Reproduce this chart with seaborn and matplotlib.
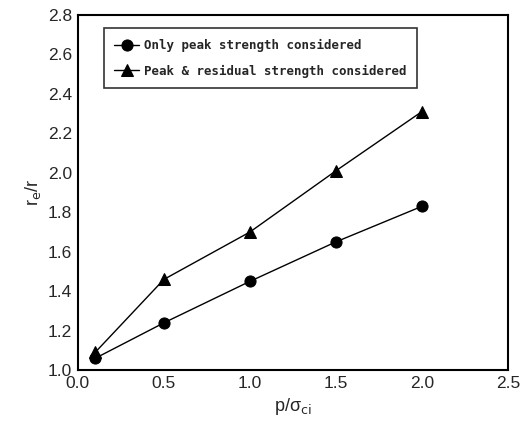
import matplotlib
matplotlib.use("Agg")
import matplotlib.pyplot as plt
import seaborn as sns
import pandas as pd

x_vals = [0.1, 0.5, 1.0, 1.5, 2.0]
peak_only = [1.06, 1.24, 1.45, 1.65, 1.83]
peak_residual = [1.09, 1.46, 1.70, 2.01, 2.31]
labels = ["Only peak strength considered", "Peak & residual strength considered"]

df = pd.concat([
    pd.DataFrame({"x": x_vals, "y": peak_only, "s": labels[0]}),
    pd.DataFrame({"x": x_vals, "y": peak_residual, "s": labels[1]}),
])

sns.set_style("white")
plt.rcParams['font.family'] = ['Liberation Sans', 'DejaVu Sans']

fig = plt.figure(figsize=(5.23, 4.26), dpi=100)
ax = fig.add_axes([0.149, 0.131, 0.822, 0.834])

sns.lineplot(data=df, x="x", y="y", hue="s", style="s",
             markers={labels[0]: "o", labels[1]: "^"}, dashes=False,
             palette={labels[0]: "black", labels[1]: "black"},
             markersize=8, linewidth=1, markeredgecolor="black", ax=ax)

ax.set_xlim(0, 2.5)
ax.set_ylim(1.0, 2.8)
ax.set_xticks([0.0, 0.5, 1.0, 1.5, 2.0, 2.5])
ax.set_yticks([1.0, 1.2, 1.4, 1.6, 1.8, 2.0, 2.2, 2.4, 2.6, 2.8])
ax.set_xticklabels(["0.0", "0.5", "1.0", "1.5", "2.0", "2.5"])
ax.set_yticklabels(["1.0", "1.2", "1.4", "1.6", "1.8", "2.0", "2.2", "2.4", "2.6", "2.8"])
ax.tick_params(labelsize=12.5, length=0, pad=4)
for sp in ax.spines.values():
    sp.set_color("black")
    sp.set_linewidth(1.5)

ax.set_xlabel(r"p/σ$_{\mathrm{ci}}$", fontsize=13)
ax.set_ylabel(r"r$_{\mathrm{e}}$/r", fontsize=13)

leg = ax.legend(loc="upper left", bbox_to_anchor=(0.045, 0.98), frameon=True,
                fancybox=False, edgecolor="black", fontsize=9.0,
                handlelength=2.0, handletextpad=0.4, labelspacing=1.0, borderpad=0.85)
leg.get_frame().set_linewidth(1.2)
for t in leg.get_texts():
    t.set_fontweight("bold")
    t.set_family(["DejaVu Sans Mono", "DejaVu Sans"])

fig.savefig("out.png", dpi=100)
